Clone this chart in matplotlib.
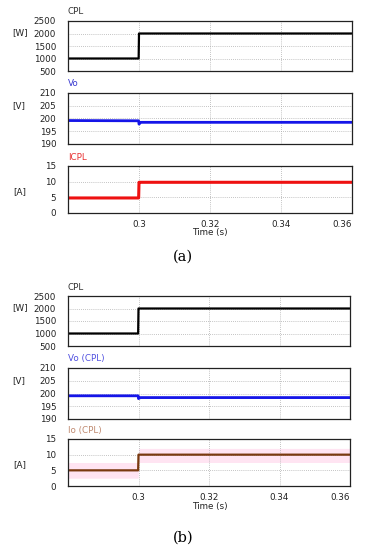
import matplotlib
matplotlib.use("Agg")
import matplotlib.pyplot as plt
import numpy as np

# ---- data ----
t_step = [0.28, 0.2999, 0.3, 0.3005, 0.36]
p_cpl = [1000, 1000, 2000, 2000, 2000]
vo_a = [199.2, 199.1, 197.8, 198.5, 198.5]
icpl_a = [4.8, 4.8, 9.8, 9.8, 9.8]
vo_b = [199.1, 199.1, 198.0, 198.4, 198.4]
io_b = [5.0, 5.0, 10.0, 10.0, 10.0]
io_band_lo = [2.5, 2.5, 7.5, 7.5, 7.5]
io_band_hi = [7.5, 7.5, 12.0, 12.0, 12.0]

xticks = [0.3, 0.32, 0.34, 0.36]
xtick_labels = ["0.3", "0.32", "0.34", "0.36"]
p_ticks = [500, 1000, 1500, 2000, 2500]
v_ticks = [190, 195, 200, 205, 210]
i_ticks = [0, 5, 10, 15]

W, H = 368, 550
fig = plt.figure(figsize=(W / 100, H / 100), dpi=100)
plt.rcParams['font.family'] = ['DejaVu Sans']
FS = 6.3


def add_ax(x0, x1, y0, y1):
    return fig.add_axes([x0 / W, 1 - y1 / H, (x1 - x0) / W, (y1 - y0) / H])


def style(ax, yticks, ylim, show_x):
    ax.set_xlim(0.28, 0.36)
    ax.set_ylim(*ylim)
    ax.set_yticks(yticks)
    ax.set_xticks(xticks)
    ax.grid(True, color="#b0b0b0", linestyle=(0, (1, 1.5)), linewidth=0.6)
    ax.tick_params(length=0, labelsize=FS, pad=8.5, colors="#222222")
    ax.tick_params(axis="x", pad=5)
    for s in ax.spines.values():
        s.set_linewidth(0.9)
        s.set_color("#222222")
    if show_x:
        ax.set_xticklabels(xtick_labels)
        labs = ax.get_xticklabels()
        labs[-1].set_horizontalalignment("right")
        labs[-1].set_x(0.36)
    else:
        ax.set_xticklabels([])


def ftext(x, y, s, **kw):
    fig.text(x / W, 1 - y / H, s, **kw)


for (yoff, x1, lbl, vo, cur, vcol, ccol, ctitle, vtitle, ctcol, vtcol, band) in [
    (0, 352, "(a)", vo_a, icpl_a, "#1515e8", "#ee1111", "ICPL", "Vo", "#e83030", "#3a3ad0", False),
    (275, 350, "(b)", vo_b, io_b, "#1515e8", "#7a3a10", "Io (CPL)", "Vo (CPL)", "#c08a70", "#5050e0", True),
]:
    # power
    ax1 = add_ax(68, x1, 21 + yoff, 71 + yoff)
    ax1.plot(t_step, p_cpl, color="black", lw=1.6, drawstyle="default")
    style(ax1, p_ticks, (500, 2500), False)
    ftext(68, 12 + yoff, "CPL", fontsize=FS, color="#333333", va="center")
    ftext(12, 33 + yoff, "[W]", fontsize=FS, color="#222222", va="center")

    # voltage
    ax2 = add_ax(68, x1, 93 + yoff, 144 + yoff)
    ax2.plot(t_step, vo, color=vcol, lw=2.0)
    style(ax2, v_ticks, (190, 210), False)
    ftext(68, 84 + yoff, vtitle, fontsize=FS, color=vtcol, va="center")
    ftext(12, 106 + yoff, "[V]", fontsize=FS, color="#222222", va="center")

    # current
    ax3 = add_ax(68, x1, 166 + yoff - (2 if band else 0), 213 + yoff - (2 if band else 0))
    if band:
        ax3.fill_between(t_step, io_band_lo, io_band_hi, color="#ffe4f2", lw=0, zorder=0)
    ax3.plot(t_step, cur, color=ccol, lw=2.2 if not band else 1.6)
    style(ax3, i_ticks, (0, 15), True)
    ftext(68, 157 + yoff - (2 if band else 0), ctitle, fontsize=FS, color=ctcol, va="center")
    ftext(13, 192 + yoff - (2 if band else 0), "[A]", fontsize=FS, color="#222222", va="center")
    ftext(210, 233 + yoff - (2 if band else 0), "Time (s)", fontsize=FS, color="#222222",
          ha="center", va="center")
    ftext(183, 257 + yoff + (6 if band else 0), lbl, fontsize=10.5, family="DejaVu Serif",
          ha="center", va="center", color="black")

fig.savefig("out.png", dpi=100)
